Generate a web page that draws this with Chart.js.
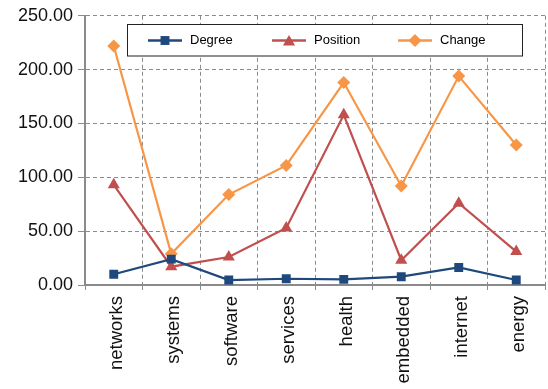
<!DOCTYPE html>
<html>
<head>
<meta charset="utf-8">
<script src="https://cdn.jsdelivr.net/npm/chart.js@4/dist/chart.umd.min.js"></script>
<style>
  html, body { margin: 0; padding: 0; background: #ffffff; overflow: hidden; }
  #wrap { width: 548px; height: 389px; overflow: hidden; }
</style>
</head>
<body>
<div id="wrap"><canvas id="c" width="552" height="389"></canvas></div>
<script>
// Categories along the x axis
const categories = ['networks', 'systems', 'software', 'services', 'health', 'embedded', 'internet', 'energy'];

// Series values
const degreeValues = [10, 24, 4.6, 5.8, 5.2, 7.7, 16.3, 4.6];
const positionValues = [93, 17, 26, 53, 158, 23, 76, 31];
const changeValues = [222, 29, 84, 111, 188, 92, 194, 130];

// Series names
const seriesNames = ['Degree', 'Position', 'Change'];

// Y axis range
const yMin = 0;
const yMax = 250;
const yStep = 50;

const colors = ['#1F497D', '#C0504D', '#F79646'];
const shapes = ['rect', 'triangle', 'rectRot'];
const radii = [6.3, 7, 6.5];

const FONT = '"Liberation Sans", Arial, Helvetica, sans-serif';

function makeSet(i, values) {
  return {
    label: seriesNames[i],
    data: values,
    borderColor: colors[i],
    backgroundColor: colors[i],
    borderWidth: 2.2,
    pointStyle: shapes[i],
    pointRadius: radii[i],
    pointHoverRadius: radii[i],
    pointBorderWidth: 0,
    pointBackgroundColor: colors[i],
    tension: 0
  };
}

// Boxed legend with a line-and-marker sample for each series
const boxedLegend = {
  id: 'boxedLegend',
  afterDraw(chart) {
    const ctx = chart.ctx;
    const box = { x: 127.5, y: 24.5, w: 395, h: 31.5 };
    ctx.save();
    ctx.fillStyle = '#ffffff';
    ctx.fillRect(box.x, box.y, box.w, box.h);
    ctx.strokeStyle = '#222222';
    ctx.lineWidth = 1;
    ctx.strokeRect(box.x, box.y, box.w, box.h);
    const starts = [148, 272, 398];
    const cy = 40.5;
    chart.data.datasets.forEach((ds, i) => {
      const x0 = starts[i];
      ctx.strokeStyle = ds.borderColor;
      ctx.lineWidth = 2.5;
      ctx.beginPath();
      ctx.moveTo(x0, cy);
      ctx.lineTo(x0 + 34, cy);
      ctx.stroke();
      ctx.fillStyle = ds.borderColor;
      Chart.helpers.drawPoint(ctx, {
        pointStyle: ds.pointStyle,
        radius: ds.pointRadius,
        rotation: 0,
        borderWidth: 0
      }, x0 + 17, cy + (ds.pointStyle === 'triangle' ? 1.5 : 0));
      ctx.fillStyle = '#000000';
      ctx.font = '13px ' + FONT;
      ctx.textBaseline = 'middle';
      ctx.textAlign = 'left';
      ctx.fillText(ds.label, x0 + 42, cy);
    });
    ctx.restore();
  }
};

new Chart(document.getElementById('c'), {
  type: 'line',
  data: {
    labels: categories,
    datasets: [
      makeSet(0, degreeValues),
      makeSet(1, positionValues),
      makeSet(2, changeValues)
    ]
  },
  options: {
    responsive: false,
    animation: false,
    events: [],
    layout: { padding: { top: 10, right: 3, bottom: 0, left: 0 } },
    plugins: {
      legend: { display: false },
      tooltip: { enabled: false }
    },
    scales: {
      x: {
        type: 'category',
        offset: true,
        grid: {
          color: '#8c8c8c',
          lineWidth: 1,
          offset: true,
          drawTicks: true,
          tickLength: 5,
          tickColor: '#8c8c8c',
          tickBorderDash: []
        },
        border: { display: true, color: '#8a8a8a', width: 2, dash: [4, 3] },
        ticks: {
          color: '#111111',
          font: { family: FONT, size: 18.5 },
          minRotation: 90,
          maxRotation: 90,
          autoSkip: false,
          padding: 6,
          labelOffset: 3
        },
        afterFit(scale) { scale.height = 104; }
      },
      y: {
        min: yMin,
        max: yMax,
        grid: {
          color: '#8c8c8c',
          lineWidth: 1,
          drawTicks: true,
          tickLength: 7,
          tickColor: '#8c8c8c',
          tickBorderDash: []
        },
        border: { display: true, color: '#8a8a8a', width: 2, dash: [4, 3] },
        ticks: {
          stepSize: yStep,
          color: '#111111',
          font: { family: FONT, size: 18 },
          padding: 5,
          callback: (v) => Number(v).toFixed(2)
        },
        afterFit(scale) { scale.width = 85; }
      }
    }
  },
  plugins: [boxedLegend]
});
</script>
</body>
</html>
